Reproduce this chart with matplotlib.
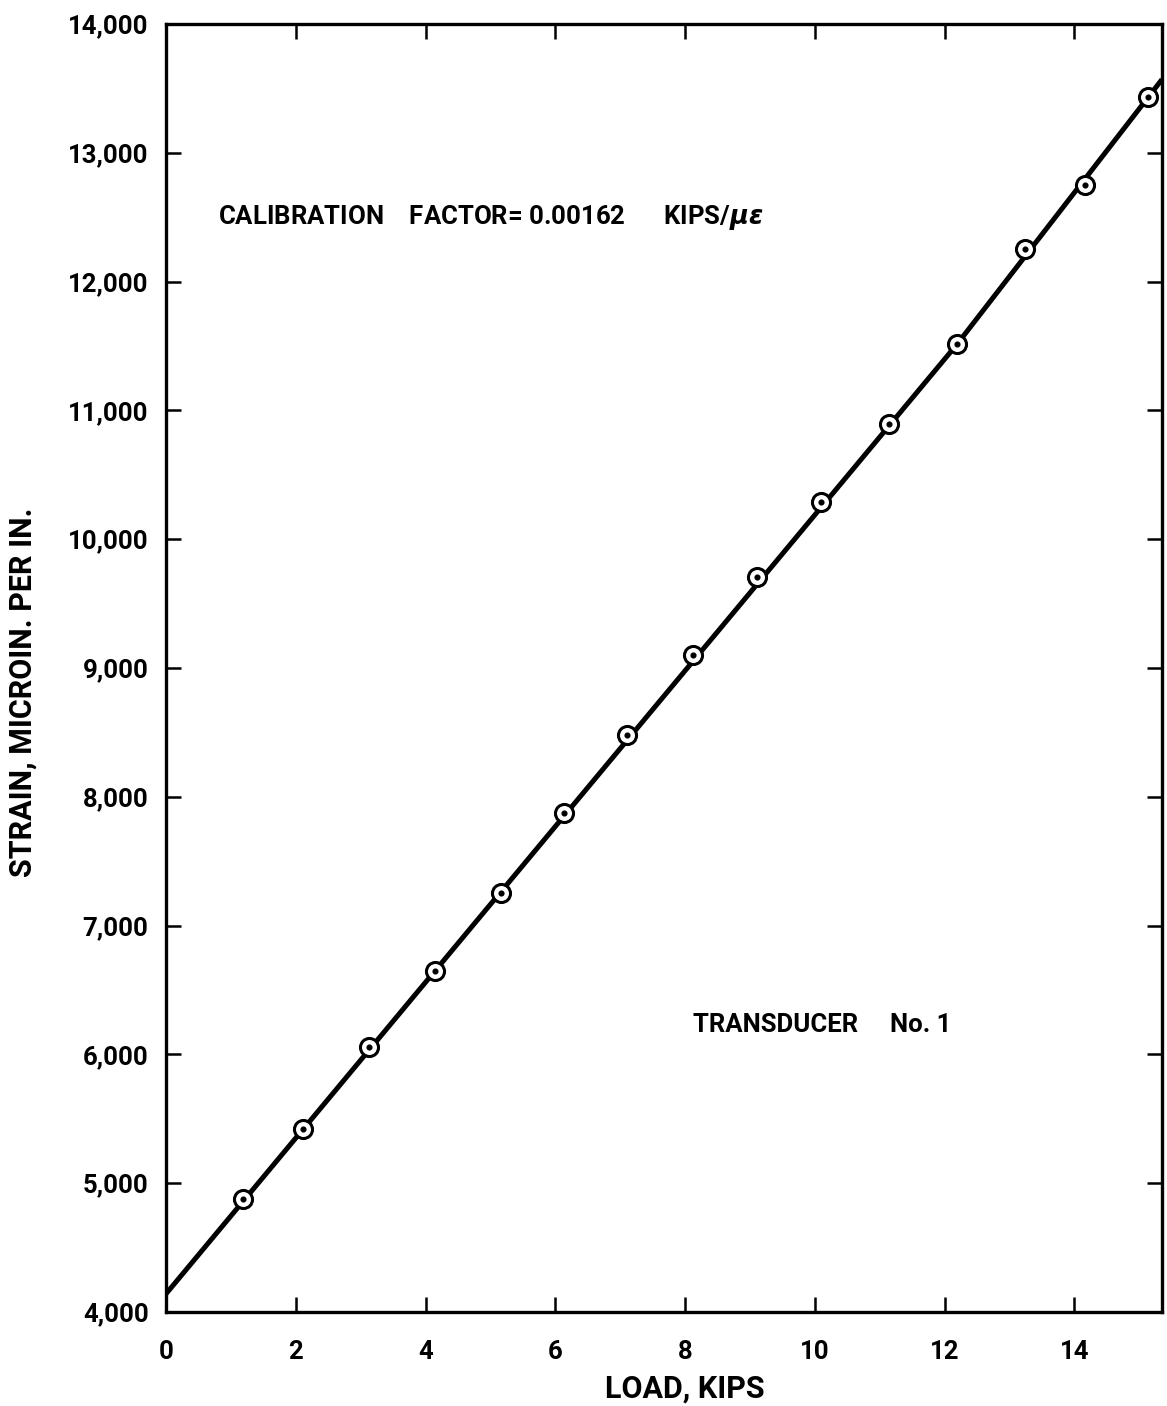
import matplotlib
matplotlib.use("Agg")
import matplotlib.pyplot as plt
from matplotlib.ticker import FuncFormatter

# Data
load_kips = [1.18, 2.11, 3.13, 4.15, 5.16, 6.13, 7.1, 8.12, 9.11, 10.09, 11.14, 12.19, 13.24, 14.16, 15.13]
strain = [4877, 5421, 6057, 6648, 7253, 7874, 8480, 9101, 9707, 10289, 10894, 11513, 12253, 12750, 13433]
# hand-drawn calibration line (slight sag in the scanned original)
fit_x = [0, 12.19, 15.35]
fit_y = [4140, 11513, 13570]
x_ticks = [0, 2, 4, 6, 8, 10, 12, 14]
y_ticks = [4000, 5000, 6000, 7000, 8000, 9000, 10000, 11000, 12000, 13000, 14000]

plt.rcParams['font.family'] = ['Roboto', 'DejaVu Sans']
plt.rcParams['font.weight'] = 'bold'
plt.rcParams['mathtext.default'] = 'it'

fig = plt.figure(figsize=(11.67, 14.06), dpi=100)
ax = fig.add_axes([0.1422, 0.0669, 0.9957 - 0.1422, 0.9829 - 0.0669])

ax.plot(fit_x, fit_y, color='black', lw=3.6, solid_capstyle='butt',
        solid_joinstyle='round', zorder=2)
ax.plot(load_kips, strain, linestyle='none', marker='o', markersize=13,
        markerfacecolor='white', markeredgecolor='black', markeredgewidth=2.2, zorder=3)
ax.plot(load_kips, strain, linestyle='none', marker='o', markersize=3.4,
        markerfacecolor='black', markeredgecolor='black', zorder=4)

ax.set_xlim(0, 15.35)
ax.set_ylim(4000, 14000)
ax.set_xticks(x_ticks)
ax.set_yticks(y_ticks)
ax.yaxis.set_major_formatter(FuncFormatter(lambda v, p: f"{int(v):,}"))

for s in ax.spines.values():
    s.set_linewidth(2.4)

ax.tick_params(axis='both', which='major', direction='in', width=1.8,
               length=11, labelsize=18.5, top=True, right=True, colors='black')
ax.tick_params(axis='x', pad=20)
ax.tick_params(axis='y', pad=12.5)

ax.set_xlabel("LOAD, KIPS", fontsize=22, fontweight='bold', labelpad=7)
ax.xaxis.label.set_x(0.521)
ax.set_ylabel("STRAIN, MICROIN. PER IN.", fontsize=22, fontweight='bold', labelpad=22)
ax.yaxis.label.set_y(0.481)

ax.text(0.80, 12494, "CALIBRATION    FACTOR= 0.00162      KIPS/$\\mu\\epsilon$",
        fontsize=18.5, fontweight='bold', va='center', ha='left')
ax.text(8.13, 6228, "TRANSDUCER     No. 1", fontsize=18.5, fontweight='bold',
        va='center', ha='left')

fig.savefig("out.png", dpi=100, facecolor='white')
